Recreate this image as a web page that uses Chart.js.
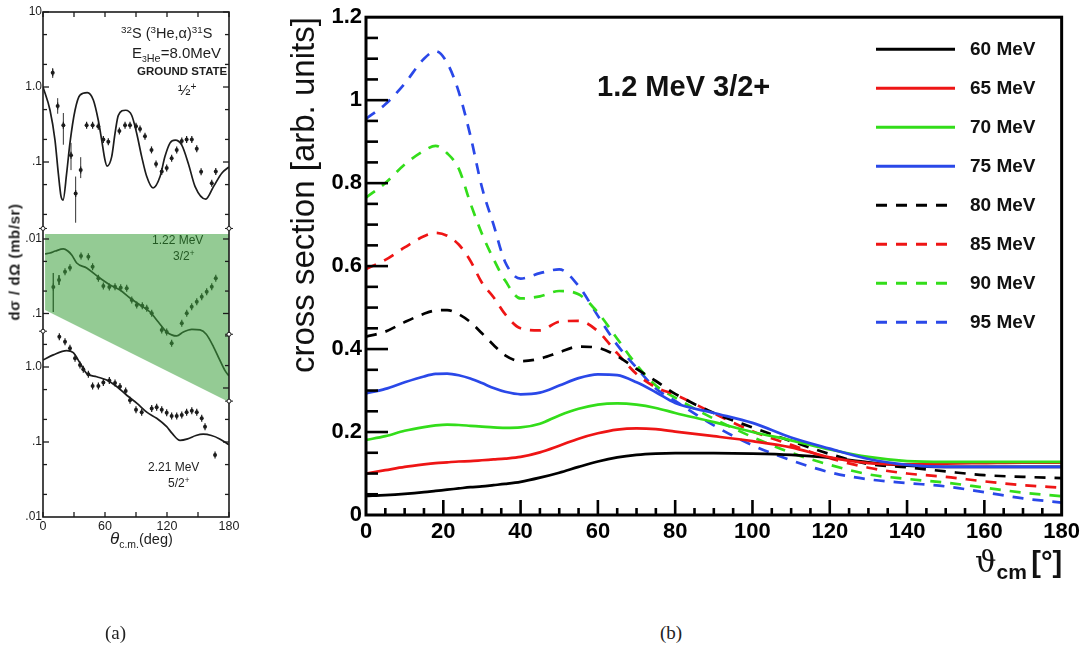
<!DOCTYPE html>
<html>
<head>
<meta charset="utf-8">
<script src="https://cdn.jsdelivr.net/npm/chart.js@4.4.0/dist/chart.umd.min.js"></script>
<style>
  html, body { margin: 0; padding: 0; background: #fff; }
  body { width: 1084px; height: 652px; position: relative; overflow: hidden; font-family: "Liberation Sans", Arial, sans-serif; }
  .box { position: absolute; }
  .t { position: absolute; white-space: nowrap; line-height: 1; color: #1e1e1e; }
  .sp { font-size: 0.68em; position: relative; top: -0.5em; }
  .sb { font-size: 0.72em; position: relative; top: 0.35em; }
</style>
</head>
<body>
<div class="box" style="left:0;top:0;width:250px;height:560px"><canvas id="chartA"></canvas></div>
<div class="box" style="left:280px;top:0;width:804px;height:600px"><canvas id="chartB"></canvas></div>

<!-- panel (a) texts -->
<div class="t" style="left:121px;top:26px;font-size:14.5px"><span class="sp">32</span>S (<span class="sp">3</span>He,α)<span class="sp">31</span>S</div>
<div class="t" style="left:132px;top:45px;font-size:15px">E<span class="sb"><span style="font-size:0.8em">3</span>He</span>=8.0MeV</div>
<div class="t" style="left:137px;top:66px;font-size:11.5px;font-weight:bold">GROUND STATE</div>
<div class="t" style="left:178px;top:82px;font-size:15px">½<span class="sp">+</span></div>
<div class="t" style="left:152px;top:234px;font-size:12px;color:#245a24">1.22 MeV</div>
<div class="t" style="left:173px;top:250px;font-size:12px;color:#245a24">3/2<span class="sp">+</span></div>
<div class="t" style="left:148px;top:461px;font-size:12px">2.21 MeV</div>
<div class="t" style="left:168px;top:477px;font-size:12px">5/2<span class="sp">+</span></div>
<div class="t" style="left:14px;top:262px;transform:translate(-50%,-50%) rotate(-90deg);font-size:15px;font-weight:bold;letter-spacing:0.6px">dσ / dΩ (mb/sr)</div>
<div class="t" style="left:110px;top:530px;font-size:14.5px"><i style="font-size:17px">θ</i><span class="sb">c.m.</span>(deg)</div>

<!-- panel (b) texts -->
<div class="t" style="left:597px;top:72px;font-size:29px;font-weight:bold;color:#111">1.2 MeV 3/2+</div>
<div class="t" style="left:975px;top:544px;color:#111"><span style="font:30px 'DejaVu Serif'">ϑ</span><span style="font:bold 21px 'Liberation Sans';position:relative;top:7px">cm</span> <span style="font:bold 29px 'Liberation Sans'">[°]</span></div>

<div class="t" style="left:105px;top:622px;font:19px 'Liberation Serif';color:#222">(a)</div>
<div class="t" style="left:660px;top:622px;font:19px 'Liberation Serif';color:#222">(b)</div>

<script>
// ---------- panel (a): 32S(3He,a)31S, three states (log axes) ----------
const aXTicks = [0, 30, 60, 90, 120, 150, 180];
const aXLabelVals = [0, 60, 120, 180];
const aXLabelText = ['0', '60', '120', '180'];

// ground state 1/2+
const topTheta = [0, 6.8, 11.6, 14.8, 17.4, 19.4, 22.9, 26.1, 31, 35.8, 42.9, 48.7, 53.5, 56.8, 60, 62, 66.5, 69.7, 72.9, 80, 85.8, 90.7, 95.5, 100.4, 106.5, 113.3, 118, 123, 128, 134.3, 140.7, 147.2, 157.5, 165, 173, 180];
const topCurve = [1.0, 0.49, 0.196, 0.071, 0.035, 0.031, 0.071, 0.18, 0.49, 0.78, 0.84, 0.67, 0.36, 0.196, 0.106, 0.088, 0.118, 0.24, 0.42, 0.49, 0.42, 0.24, 0.118, 0.064, 0.045, 0.064, 0.118, 0.18, 0.196, 0.168, 0.095, 0.047, 0.032, 0.047, 0.071, 0.086];
const topPtTheta = [9.4, 14.2, 19.7, 27.1, 31.6, 36.5, 42.2, 48, 53.5, 58.4, 63.2, 73.9, 79.4, 84.2, 90, 93.9, 98.7, 105, 109.4, 114.9, 119.7, 124.5, 129.4, 134.3, 139, 144, 148.8, 153, 163.3, 167.2];
const topPt = [1.55, 0.56, 0.31, 0.123, 0.038, 0.078, 0.31, 0.31, 0.30, 0.20, 0.186, 0.26, 0.31, 0.31, 0.30, 0.275, 0.22, 0.145, 0.094, 0.075, 0.083, 0.112, 0.145, 0.19, 0.20, 0.20, 0.15, 0.074, 0.052, 0.075];
const topErrTheta = [9.4, 14.2, 19.7, 27.1, 31.6, 36.5];
const topErrLo = [1.32, 0.44, 0.17, 0.078, 0.0155, 0.061];
const topErrHi = [1.79, 0.71, 0.45, 0.18, 0.064, 0.116];

// 1.22 MeV 3/2+
const midTheta = [2, 6.8, 12, 19.7, 24, 27.8, 32.6, 42.3, 53.6, 64.9, 74.5, 84.2, 93.9, 103.6, 111.6, 119.7, 129.4, 135.8, 144, 152, 158, 165, 171, 176, 180];
const midCurve = [0.0159, 0.0154, 0.0145, 0.0136, 0.0145, 0.0164, 0.021, 0.0245, 0.0324, 0.0414, 0.0484, 0.0619, 0.0769, 0.0955, 0.130, 0.177, 0.200, 0.177, 0.163, 0.166, 0.19, 0.28, 0.42, 0.58, 0.69];
const midPtTheta = [10, 15.5, 21.3, 26.1, 36.8, 43.9, 48, 53.6, 58.4, 64.2, 69.7, 75.2, 81, 85.9, 90.7, 96.1, 100.4, 105.2, 114.9, 119.7, 124.5, 134.3, 139.1, 143.9, 148.8, 153.6, 158.4, 163.3, 167.2];
const midPt = [0.044, 0.0355, 0.0275, 0.0243, 0.0169, 0.0173, 0.0235, 0.0337, 0.0427, 0.0441, 0.0437, 0.045, 0.046, 0.066, 0.077, 0.079, 0.085, 0.099, 0.166, 0.177, 0.25, 0.135, 0.099, 0.081, 0.0695, 0.0595, 0.051, 0.0437, 0.0337];
const midErrTheta = [10, 15.5];
const midErrLo = [0.0286, 0.0305];
const midErrHi = [0.0955, 0.0414];
// green band drawn over the 3/2+ panel
const shadeTheta = [2, 180];
const shadeLow = [0.0897, 1.54];
const shadeTop = 0.00857;

// 2.21 MeV 5/2+
const botTheta = [0, 10, 22.9, 29.3, 36, 42.3, 52, 61.6, 71.3, 81, 90.7, 100.4, 110, 119.7, 125, 132.6, 140, 148, 155, 163, 171, 180];
const botCurve = [1.24, 1.45, 1.65, 1.55, 1.12, 0.82, 0.74, 0.67, 0.55, 0.42, 0.33, 0.25, 0.207, 0.16, 0.13, 0.105, 0.11, 0.122, 0.127, 0.122, 0.11, 0.092];
const botPtTheta = [15.8, 21.3, 26.1, 31, 35.8, 39, 43.9, 48, 53.6, 58.4, 64.2, 69.7, 74.5, 80, 84.2, 90, 95.5, 105.2, 110, 114.9, 119.7, 124.5, 129.4, 134.3, 139, 144, 148.8, 153.6, 156.8, 166.5];
const botPt = [2.54, 2.17, 1.78, 1.31, 1.06, 0.93, 0.80, 0.56, 0.56, 0.62, 0.66, 0.61, 0.55, 0.48, 0.36, 0.27, 0.25, 0.28, 0.29, 0.27, 0.246, 0.222, 0.222, 0.229, 0.25, 0.26, 0.25, 0.207, 0.16, 0.067];

// y tick marks / labels of the three sub-panels
const topTicks = [10, 5, 2, 1, 0.5, 0.2, 0.1, 0.05, 0.02];
const midTicksLeft = [0.01, 0.02, 0.05, 0.1];
const midTicksRight = [0.01, 0.02, 0.05, 0.1, 0.2, 0.5, 1];
const botTicksLeft = [2, 1, 0.5, 0.2, 0.1, 0.05, 0.02];
const botTicksRight = [0.2, 0.1, 0.05, 0.02];
const topLabelVals = [10, 1, 0.1], topLabelText = ['10', '1.0', '.1'];
const midLabelVals = [0.01, 0.1], midLabelText = ['.01', '.1'];
const botLabelVals = [1, 0.1, 0.01], botLabelText = ['1.0', '.1', '.01'];

// ---------- panel (b): 1.2 MeV 3/2+ cross sections ----------
const bTheta = [0, 5, 10, 15, 18, 21, 24, 27, 30, 33, 36, 40, 45, 50, 55, 60, 65, 70, 75, 80, 90, 100, 110, 120, 130, 140, 150, 160, 170, 180];
const cs60 = [0.046, 0.048, 0.051, 0.055, 0.058, 0.061, 0.064, 0.067, 0.069, 0.072, 0.075, 0.080, 0.090, 0.102, 0.116, 0.129, 0.139, 0.145, 0.148, 0.149, 0.149, 0.148, 0.145, 0.138, 0.127, 0.119, 0.116, 0.116, 0.116, 0.116];
const cs65 = [0.100, 0.108, 0.116, 0.122, 0.125, 0.127, 0.129, 0.130, 0.132, 0.134, 0.136, 0.140, 0.151, 0.167, 0.184, 0.197, 0.206, 0.209, 0.207, 0.201, 0.190, 0.178, 0.163, 0.139, 0.125, 0.122, 0.124, 0.125, 0.126, 0.126];
const cs70 = [0.181, 0.190, 0.203, 0.212, 0.216, 0.218, 0.217, 0.215, 0.213, 0.211, 0.210, 0.211, 0.220, 0.240, 0.256, 0.266, 0.269, 0.266, 0.258, 0.246, 0.224, 0.200, 0.180, 0.158, 0.140, 0.130, 0.128, 0.128, 0.128, 0.128];
const cs75 = [0.293, 0.304, 0.320, 0.334, 0.340, 0.341, 0.337, 0.329, 0.318, 0.306, 0.297, 0.291, 0.295, 0.312, 0.330, 0.339, 0.337, 0.320, 0.296, 0.270, 0.246, 0.222, 0.187, 0.160, 0.135, 0.121, 0.116, 0.116, 0.116, 0.116];
const cs80 = [0.430, 0.442, 0.465, 0.485, 0.493, 0.494, 0.484, 0.465, 0.438, 0.410, 0.385, 0.371, 0.377, 0.392, 0.406, 0.403, 0.383, 0.352, 0.323, 0.292, 0.246, 0.211, 0.178, 0.147, 0.123, 0.115, 0.105, 0.096, 0.092, 0.089];
const cs85 = [0.593, 0.615, 0.645, 0.672, 0.680, 0.673, 0.652, 0.613, 0.560, 0.525, 0.484, 0.450, 0.445, 0.466, 0.468, 0.443, 0.390, 0.340, 0.308, 0.290, 0.245, 0.202, 0.169, 0.137, 0.114, 0.100, 0.092, 0.081, 0.072, 0.066];
const cs90 = [0.765, 0.800, 0.845, 0.878, 0.890, 0.872, 0.835, 0.752, 0.678, 0.617, 0.565, 0.522, 0.527, 0.540, 0.532, 0.488, 0.425, 0.362, 0.312, 0.283, 0.232, 0.188, 0.150, 0.121, 0.098, 0.087, 0.078, 0.066, 0.054, 0.045];
const cs95 = [0.955, 0.990, 1.040, 1.100, 1.118, 1.090, 1.020, 0.915, 0.790, 0.700, 0.610, 0.570, 0.583, 0.592, 0.552, 0.480, 0.410, 0.355, 0.305, 0.275, 0.216, 0.168, 0.132, 0.103, 0.086, 0.077, 0.069, 0.055, 0.040, 0.030];
const bLabels = ['60 MeV', '65 MeV', '70 MeV', '75 MeV', '80 MeV', '85 MeV', '90 MeV', '95 MeV'];
const bXTicks = [0, 20, 40, 60, 80, 100, 120, 140, 160, 180];
const bYTicks = [0, 0.2, 0.4, 0.6, 0.8, 1, 1.2];
const bYTickText = ['0', '0.2', '0.4', '0.6', '0.8', '1', '1.2'];

function pts(xs, ys) { return xs.map((x, i) => ({ x: x, y: ys[i] })); }
function bars(xs, lo, hi) {
  const out = [];
  xs.forEach((x, i) => { out.push({ x: x, y: lo[i] }, { x: x, y: hi[i] }, { x: x, y: null }); });
  return out;
}

const ink = '#1c1c1c';

function curve(data, axis) {
  return { data: data, yAxisID: axis, borderColor: ink, borderWidth: 1.7, pointRadius: 0, fill: false, cubicInterpolationMode: 'monotone' };
}
function dots(data, axis) {
  return { data: data, yAxisID: axis, showLine: false, pointRadius: 2, pointBackgroundColor: ink, pointBorderColor: ink, pointBorderWidth: 0 };
}
function ticks(data, axis) {
  return { data: data, yAxisID: axis, showLine: false, pointStyle: 'line', rotation: 90, pointRadius: 3.5, pointBorderColor: ink, pointBorderWidth: 1.2 };
}
function errs(data, axis) {
  return { data: data, yAxisID: axis, borderColor: '#333', borderWidth: 1, pointRadius: 0, spanGaps: false };
}

const frameA = {
  id: 'frameA',
  afterDraw(chart) {
    const { ctx, chartArea: a, scales } = chart;
    const line = (x1, y1, x2, y2) => { ctx.beginPath(); ctx.moveTo(x1, y1); ctx.lineTo(x2, y2); ctx.stroke(); };
    const decade = v => Math.abs(Math.log10(v) - Math.round(Math.log10(v))) < 1e-6;
    ctx.save();
    ctx.strokeStyle = ink;
    ctx.lineWidth = 1.6;
    ctx.strokeRect(a.left, a.top, a.right - a.left, a.bottom - a.top);
    ctx.lineWidth = 1.3;
    aXTicks.forEach(v => {
      const px = scales.x.getPixelForValue(v);
      line(px, a.bottom, px, a.bottom - 5);
      line(px, a.top, px, a.top + 5);
    });
    const side = (scale, vals, left) => vals.forEach(v => {
      const py = scale.getPixelForValue(v);
      const len = decade(v) ? 6 : 4;
      if (left) line(a.left, py, a.left + len, py); else line(a.right, py, a.right - len, py);
    });
    side(scales.yA, topTicks, true); side(scales.yA, topTicks, false);
    side(scales.yB, midTicksLeft, true); side(scales.yB, midTicksRight, false);
    side(scales.yC, botTicksLeft, true); side(scales.yC, botTicksRight, false);

    // axis breaks
    ctx.fillStyle = '#fff';
    ctx.lineWidth = 1;
    [[a.left, scales.yA.getPixelForValue(0.013)], [a.right, scales.yA.getPixelForValue(0.013)],
     [a.left, scales.yC.getPixelForValue(3.0)], [a.right, scales.yB.getPixelForValue(0.19)],
     [a.right, scales.yB.getPixelForValue(1.5)]].forEach(p => {
      line(p[0] - 4, p[1], p[0] + 4, p[1]);
      ctx.beginPath(); ctx.arc(p[0], p[1], 2, 0, Math.PI * 2); ctx.fill(); ctx.stroke();
    });

    ctx.fillStyle = ink;
    ctx.font = '12px "Liberation Sans"';
    ctx.textAlign = 'right';
    ctx.textBaseline = 'middle';
    const labels = (scale, vals, text) => vals.forEach((v, i) => ctx.fillText(text[i], a.left - 1, scale.getPixelForValue(v)));
    labels(scales.yA, topLabelVals, topLabelText);
    labels(scales.yB, midLabelVals, midLabelText);
    labels(scales.yC, botLabelVals, botLabelText);
    ctx.font = '12.5px "Liberation Sans"';
    ctx.textAlign = 'center';
    ctx.textBaseline = 'top';
    aXLabelVals.forEach((v, i) => ctx.fillText(aXLabelText[i], scales.x.getPixelForValue(v), a.bottom + 3));
    ctx.restore();
  }
};

new Chart(document.getElementById('chartA'), {
  type: 'line',
  data: {
    datasets: [
      { data: pts(shadeTheta, shadeLow), yAxisID: 'yB', order: -1, borderWidth: 0, pointRadius: 0,
        fill: { value: shadeTop }, backgroundColor: 'rgba(60,160,60,0.55)' },
      curve(pts(topTheta, topCurve), 'yA'),
      curve(pts(midTheta, midCurve), 'yB'),
      curve(pts(botTheta, botCurve), 'yC'),
      dots(pts(topPtTheta, topPt), 'yA'),
      dots(pts(midPtTheta, midPt), 'yB'),
      dots(pts(botPtTheta, botPt), 'yC'),
      ticks(pts(topPtTheta, topPt), 'yA'),
      ticks(pts(midPtTheta, midPt), 'yB'),
      ticks(pts(botPtTheta, botPt), 'yC'),
      errs(bars(topErrTheta, topErrLo, topErrHi), 'yA'),
      errs(bars(midErrTheta, midErrLo, midErrHi), 'yB')
    ]
  },
  options: {
    responsive: true,
    maintainAspectRatio: false,
    animation: false,
    layout: { padding: { left: 43, top: 12, right: 21, bottom: 43 } },
    plugins: { legend: { display: false }, tooltip: { enabled: false } },
    scales: {
      x: { type: 'linear', min: 0, max: 180, display: false },
      yA: { type: 'logarithmic', min: 1.849e-6, max: 10, display: false },
      yB: { type: 'logarithmic', reverse: true, min: 8.98e-6, max: 53.9, display: false },
      yC: { type: 'logarithmic', min: 0.01, max: 5.41e4, display: false }
    }
  },
  plugins: [frameA]
});

// ---------- panel (b) ----------
const black = '#000000', red = '#ee1515', green = '#33dd1a', blue = '#2a48e8';
const bSeries = [cs60, cs65, cs70, cs75, cs80, cs85, cs90, cs95];
const bColors = [black, red, green, blue, black, red, green, blue];
const bOrder = [3, 2, 1, 0, 4, 5, 6, 7];

const legendB = {
  id: 'legendB',
  afterDatasetsDraw(chart) {
    const { ctx, chartArea: a } = chart;
    ctx.save();
    chart.data.datasets.forEach((ds, i) => {
      const y = a.top + 32 + i * 39;
      ctx.strokeStyle = ds.borderColor;
      ctx.lineWidth = 3;
      ctx.setLineDash(ds.borderDash || []);
      ctx.beginPath(); ctx.moveTo(a.left + 510, y); ctx.lineTo(a.left + 589, y); ctx.stroke();
      ctx.setLineDash([]);
      ctx.fillStyle = '#111';
      ctx.font = 'bold 19px "Liberation Sans"';
      ctx.textAlign = 'left';
      ctx.textBaseline = 'middle';
      ctx.fillText(ds.label, a.left + 604, y + 1);
    });
    ctx.restore();
  }
};

const frameB = {
  id: 'frameB',
  afterDraw(chart) {
    const { ctx, chartArea: a, scales } = chart;
    const line = (x1, y1, x2, y2) => { ctx.beginPath(); ctx.moveTo(x1, y1); ctx.lineTo(x2, y2); ctx.stroke(); };
    ctx.save();
    ctx.strokeStyle = '#000';
    ctx.lineWidth = 2.6;
    for (let v = 5; v < 180; v += 5) {
      const px = scales.x.getPixelForValue(v);
      line(px, a.bottom, px, a.bottom - (v % 20 === 0 ? 15 : 7));
    }
    for (let k = 1; k < 24; k++) {
      const py = scales.y.getPixelForValue(k * 0.05);
      line(a.left, py, a.left + (k % 4 === 0 ? 22 : 12), py);
    }
    ctx.lineWidth = 3;
    ctx.strokeRect(a.left, a.top, a.right - a.left, a.bottom - a.top);
    ctx.restore();
  }
};

new Chart(document.getElementById('chartB'), {
  type: 'line',
  data: {
    datasets: bSeries.map((s, i) => ({
      label: bLabels[i],
      data: pts(bTheta, s),
      borderColor: bColors[i],
      borderWidth: 2.7,
      borderDash: i >= 4 ? [11, 9] : [],
      pointRadius: 0,
      fill: false,
      cubicInterpolationMode: 'monotone',
      order: bOrder[i]
    }))
  },
  options: {
    responsive: true,
    maintainAspectRatio: false,
    animation: false,
    layout: { padding: { left: 0, top: 14, right: 21, bottom: 45 } },
    plugins: { legend: { display: false }, tooltip: { enabled: false } },
    scales: {
      x: {
        type: 'linear', min: 0, max: 180,
        afterBuildTicks: s => { s.ticks = bXTicks.map(v => ({ value: v })); },
        afterFit: s => { s.height = 40; },
        grid: { display: false, drawTicks: false },
        border: { display: false },
        ticks: { font: { family: 'Liberation Sans', size: 22, weight: 'bold' }, color: '#000', padding: 4, maxRotation: 0 }
      },
      y: {
        type: 'linear', min: 0, max: 1.2,
        afterBuildTicks: s => { s.ticks = bYTicks.map(v => ({ value: v })); },
        afterFit: s => { s.width = 86; },
        grid: { display: false, drawTicks: false },
        border: { display: false },
        ticks: { font: { family: 'Liberation Sans', size: 22, weight: 'bold' }, color: '#000', padding: 4,
                 callback: (v, i) => bYTickText[i] },
        title: { display: true, text: 'cross section [arb. units]', align: 'end', color: '#111',
                 font: { family: 'Liberation Sans', size: 33 }, padding: { top: 5, bottom: 0 } }
      }
    }
  },
  plugins: [legendB, frameB]
});
</script>
</body>
</html>
